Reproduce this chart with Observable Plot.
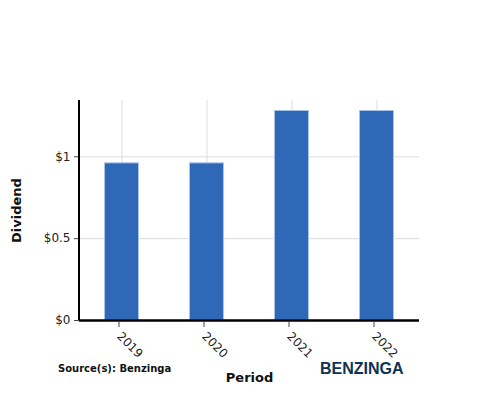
<!DOCTYPE html>
<html>
<head>
<meta charset="utf-8">
<script src="https://cdn.jsdelivr.net/npm/d3@7"></script>
<script src="https://cdn.jsdelivr.net/npm/@observablehq/plot@0.6"></script>
<style>
  html, body { margin: 0; padding: 0; background: #fff; }
  #wrap { position: relative; width: 500px; height: 400px; font-family: "DejaVu Sans", sans-serif; }
  #source { position: absolute; left: 58px; top: 363px; font-size: 10px; font-weight: bold; color: #111; }
  #logo { position: absolute; left: 320px; top: 360px; font-size: 16px; font-weight: bold; color: #0e3352; font-family: "Liberation Sans", sans-serif; }
</style>
</head>
<body>
<div id="wrap"><div id="chart"></div><div id="source">Source(s): Benzinga</div><div id="logo">BENZINGA</div></div>
<script>
const periods = ["2019", "2020", "2021", "2022"];
const dividends = [0.96, 0.96, 1.28, 1.28];
const yTicks = [0, 0.5, 1];

const data = periods.map((p, i) => ({period: p, dividend: dividends[i]}));

function leftLine(index, scales, values, dimensions) {
  const {marginLeft, marginTop, height, marginBottom} = dimensions;
  const line = document.createElementNS("http://www.w3.org/2000/svg", "line");
  line.setAttribute("x1", marginLeft);
  line.setAttribute("x2", marginLeft);
  line.setAttribute("y1", marginTop);
  line.setAttribute("y2", height - marginBottom);
  line.setAttribute("stroke", "#000");
  line.setAttribute("stroke-width", 2);
  return line;
}

const chart = Plot.plot({
  width: 500,
  height: 400,
  marginLeft: 79,
  marginRight: 81,
  marginTop: 100,
  marginBottom: 80,
  style: {fontFamily: "DejaVu Sans, sans-serif", fontSize: "12px", color: "#222", background: "#fff"},
  x: {domain: periods, padding: 0, label: null},
  y: {domain: [0, 1.344], label: null},
  marks: [
    Plot.gridX(periods, {stroke: "#ddd", strokeOpacity: 1}),
    Plot.gridY(yTicks, {stroke: "#ddd", strokeOpacity: 1}),
    Plot.barY(data, {x: "period", y: "dividend", fill: "#3068b8", stroke: "#a9c3ea", strokeWidth: 1, insetLeft: 25.5, insetRight: 25.5}),
    Plot.axisY({ticks: yTicks, tickFormat: d => "$" + d, tickSize: 5, stroke: "#444", fill: "#222", fontSize: 12, label: null}),
    Plot.axisX({tickSize: 5, tickRotate: 45, textAnchor: "start", stroke: "#444", fill: "#222", dx: -3, dy: 2, fontSize: 12, label: null}),
    leftLine,
    Plot.ruleY([0], {stroke: "#000", strokeWidth: 2.5}),
    Plot.text(["Dividend"], {frameAnchor: "left", textAnchor: "middle", dx: -63, rotate: -90, fontWeight: "bold", fontSize: 13, fill: "#111"}),
    Plot.text(["Period"], {frameAnchor: "bottom", dy: 61, fontWeight: "bold", fontSize: 13, fill: "#111"})
  ]
});
document.getElementById("chart").appendChild(chart);
</script>
</body>
</html>
